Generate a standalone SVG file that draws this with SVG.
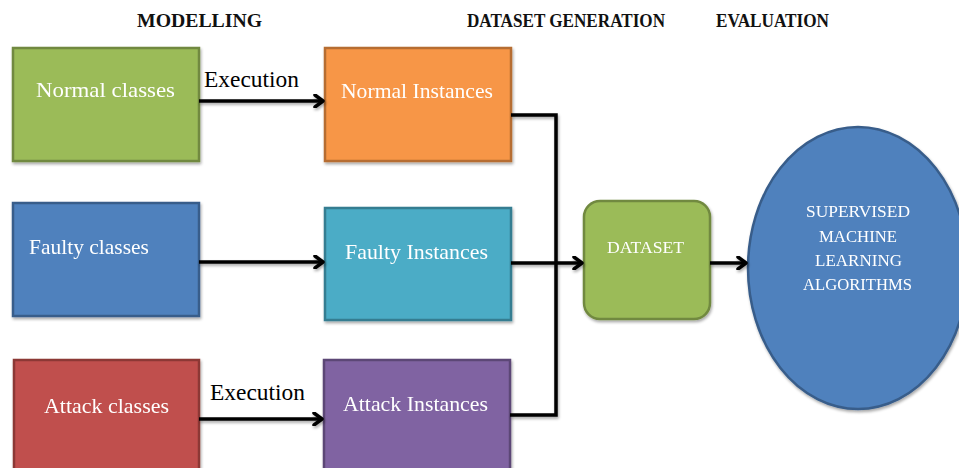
<svg xmlns="http://www.w3.org/2000/svg" width="959" height="468" viewBox="0 0 959 468">
<defs>
<style>
.h{font-family:"Liberation Serif","Times New Roman",serif;font-weight:bold;font-size:18px;fill:#111}
.t{font-family:"Liberation Serif","Times New Roman",serif;font-size:22px;fill:#fff}
.s{font-family:"Liberation Serif","Times New Roman",serif;font-size:17.5px;fill:#fff}
.lbl{font-family:"Liberation Serif","Times New Roman",serif;font-size:22.5px;fill:#000}
.box{stroke-width:2.5}
.c{fill:none;stroke:#000;stroke-width:3.5}
</style>
<marker id="ah" markerWidth="14" markerHeight="14" refX="11" refY="7" orient="auto" markerUnits="userSpaceOnUse">
<polyline points="3,1 11,7 3,13" fill="none" stroke="#000" stroke-width="3.5" stroke-linecap="round" stroke-linejoin="round"/>
</marker>
<filter id="sh" x="-10%" y="-10%" width="130%" height="130%">
<feGaussianBlur in="SourceAlpha" stdDeviation="1.5"/>
<feOffset dx="1" dy="2" result="b"/>
<feComponentTransfer><feFuncA type="linear" slope="0.35"/></feComponentTransfer>
<feMerge><feMergeNode/><feMergeNode in="SourceGraphic"/></feMerge>
</filter>
</defs>
<rect width="959" height="468" fill="#fff"/>
<g id="headings">
<text class="h" x="137" y="27" textLength="125" lengthAdjust="spacingAndGlyphs">MODELLING</text>
<text class="h" x="467" y="27" textLength="198" lengthAdjust="spacingAndGlyphs">DATASET GENERATION</text>
<text class="h" x="716" y="27" textLength="113" lengthAdjust="spacingAndGlyphs">EVALUATION</text>
</g>
<g id="normal-classes" filter="url(#sh)">
<rect class="box" x="13" y="48" width="186" height="113" fill="#9BBB59" stroke="#71893F"/>
<text class="t" x="36" y="97" textLength="139" lengthAdjust="spacingAndGlyphs">Normal classes</text>
</g>
<g id="normal-instances" filter="url(#sh)">
<rect class="box" x="325" y="48" width="186" height="113" fill="#F79646" stroke="#B66D31"/>
<text class="t" x="341" y="98" textLength="152" lengthAdjust="spacingAndGlyphs">Normal Instances</text>
</g>
<g id="faulty-classes" filter="url(#sh)">
<rect class="box" x="13" y="203" width="186" height="113" fill="#4F81BD" stroke="#385D8A"/>
<text class="t" x="29" y="254" textLength="120" lengthAdjust="spacingAndGlyphs">Faulty classes</text>
</g>
<g id="faulty-instances" filter="url(#sh)">
<rect class="box" x="325" y="208" width="186" height="112" fill="#4BACC6" stroke="#357D91"/>
<text class="t" x="345" y="259" textLength="143" lengthAdjust="spacingAndGlyphs">Faulty Instances</text>
</g>
<g id="attack-classes" filter="url(#sh)">
<rect class="box" x="14" y="360" width="185" height="115" fill="#C0504D" stroke="#8C3836"/>
<text class="t" x="44" y="413" textLength="125" lengthAdjust="spacingAndGlyphs">Attack classes</text>
</g>
<g id="attack-instances" filter="url(#sh)">
<rect class="box" x="324" y="360" width="186" height="115" fill="#8064A2" stroke="#5C4776"/>
<text class="t" x="343" y="411" textLength="145" lengthAdjust="spacingAndGlyphs">Attack Instances</text>
</g>
<g id="dataset" filter="url(#sh)">
<rect class="box" x="584" y="201" width="126" height="118" rx="16" ry="16" fill="#9BBB59" stroke="#71893F"/>
<text class="s" x="607" y="253" textLength="77" lengthAdjust="spacingAndGlyphs">DATASET</text>
</g>
<g id="algorithms" filter="url(#sh)">
<ellipse cx="858" cy="268" rx="110" ry="141" fill="#4F81BD" stroke="#385D8A" stroke-width="2.5"/>
<text class="s" x="806" y="217" textLength="104" lengthAdjust="spacingAndGlyphs">SUPERVISED</text>
<text class="s" x="819" y="242" textLength="78" lengthAdjust="spacingAndGlyphs">MACHINE</text>
<text class="s" x="815" y="266" textLength="87" lengthAdjust="spacingAndGlyphs">LEARNING</text>
<text class="s" x="803" y="290" textLength="109" lengthAdjust="spacingAndGlyphs">ALGORITHMS</text>
</g>
<g id="connectors" filter="url(#sh)">
<line class="c" x1="199" y1="101" x2="323" y2="101" marker-end="url(#ah)"/>
<line class="c" x1="199" y1="262" x2="323" y2="262" marker-end="url(#ah)"/>
<line class="c" x1="199" y1="419" x2="322" y2="419" marker-end="url(#ah)"/>
<polyline class="c" points="511,115 556,115 556,415 510,415"/>
<line class="c" x1="511" y1="263" x2="582" y2="263" marker-end="url(#ah)"/>
<line class="c" x1="710" y1="263" x2="746" y2="263" marker-end="url(#ah)"/>
</g>
<g id="labels">
<text class="lbl" x="204" y="87" textLength="95" lengthAdjust="spacingAndGlyphs">Execution</text>
<text class="lbl" x="210" y="400" textLength="95" lengthAdjust="spacingAndGlyphs">Execution</text>
</g>
</svg>
